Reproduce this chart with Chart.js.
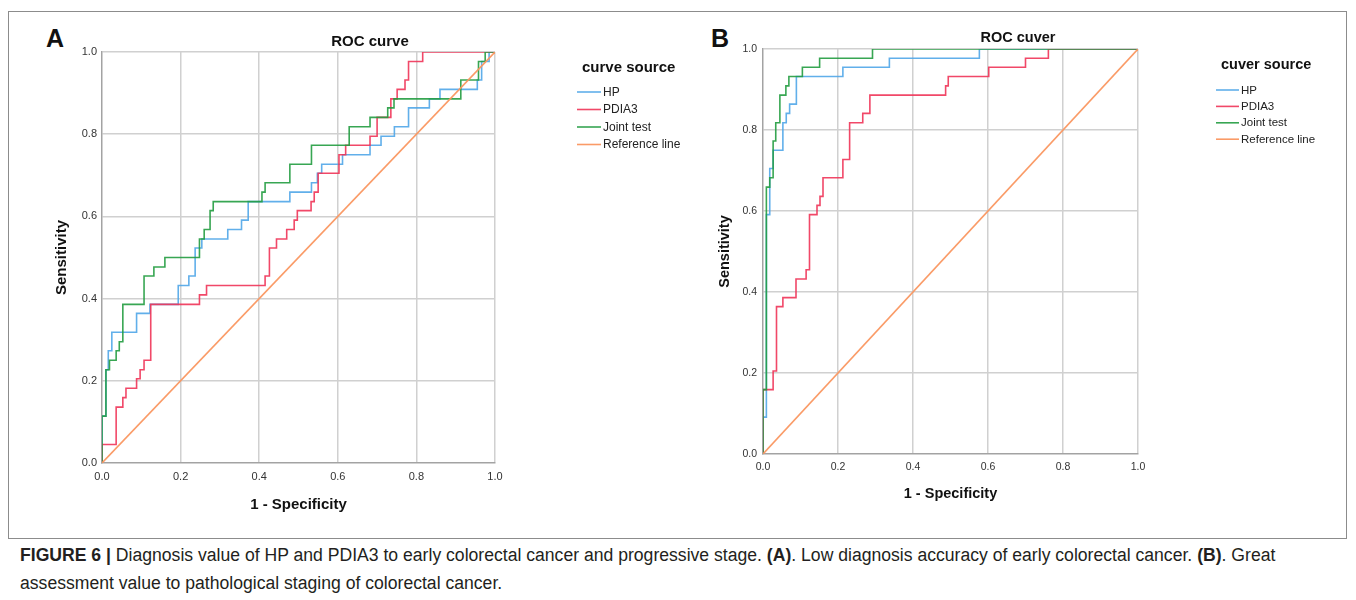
<!DOCTYPE html>
<html>
<head>
<meta charset="utf-8">
<script src="https://cdn.jsdelivr.net/npm/chart.js@4.4.0/dist/chart.umd.min.js"></script>
<style>
  body { margin: 0; width: 1356px; height: 600px; background: #fff; position: relative; overflow: hidden;
         font-family: "Liberation Sans", Arial, sans-serif; color: #111; }
  #frame { position: absolute; left: 8px; top: 11px; width: 1337px; height: 526px; border: 1px solid #8c8c8c; }
  canvas { position: absolute; }
  .letter { position: absolute; font-weight: bold; font-size: 25px; line-height: 25px; }
  #caption { position: absolute; left: 20px; top: 541px; font-size: 17.6px; line-height: 28px; color: #231f20; white-space: nowrap; }
</style>
</head>
<body>
<div id="frame"></div>
<div class="letter" style="left:46px;top:26px;">A</div>
<div class="letter" style="left:711px;top:26px;">B</div>
<canvas id="chartA" width="690" height="510" style="left:30px;top:14px;"></canvas>
<canvas id="chartB" width="650" height="510" style="left:700px;top:14px;"></canvas>
<div id="caption"><b>FIGURE 6 |</b> Diagnosis value of HP and PDIA3 to early colorectal cancer and progressive stage. <b>(A)</b>. Low diagnosis accuracy of early colorectal cancer. <b>(B)</b>. Great<br>assessment value to pathological staging of colorectal cancer.</div>
<script>
// ROC vertices: at each point the curve moves right to fpr, then up to tpr
var seriesNames = ["HP", "PDIA3", "Joint test", "Reference line"];
var tickLabels = ["0.0", "0.2", "0.4", "0.6", "0.8", "1.0"];

// panel A - early colorectal cancer
var fprHpA = [0, 0, 0.010, 0.016, 0.025, 0.088, 0.122, 0.194, 0.221, 0.237, 0.254, 0.320, 0.355, 0.372, 0.478, 0.533, 0.548, 0.559, 0.612, 0.682, 0.710, 0.744, 0.780, 0.833, 0.860, 0.955, 0.966, 0.985, 1];
var tprHpA = [0, 0.114, 0.227, 0.273, 0.318, 0.364, 0.386, 0.432, 0.455, 0.523, 0.545, 0.568, 0.591, 0.636, 0.659, 0.682, 0.705, 0.727, 0.750, 0.773, 0.795, 0.818, 0.864, 0.886, 0.909, 0.932, 0.977, 1, 1];
var fprPdiaA = [0, 0, 0.036, 0.053, 0.061, 0.088, 0.097, 0.107, 0.124, 0.248, 0.266, 0.415, 0.426, 0.444, 0.470, 0.489, 0.497, 0.532, 0.540, 0.550, 0.603, 0.620, 0.682, 0.700, 0.735, 0.751, 0.771, 0.780, 0.816, 1];
var tprPdiaA = [0, 0.045, 0.136, 0.159, 0.182, 0.205, 0.227, 0.250, 0.386, 0.409, 0.432, 0.455, 0.523, 0.545, 0.568, 0.591, 0.614, 0.636, 0.659, 0.705, 0.750, 0.773, 0.795, 0.841, 0.886, 0.909, 0.932, 0.977, 1, 1];
var fprJointA = [0, 0, 0.010, 0.019, 0.036, 0.044, 0.053, 0.107, 0.132, 0.160, 0.248, 0.260, 0.275, 0.283, 0.407, 0.415, 0.478, 0.533, 0.629, 0.682, 0.727, 0.743, 0.913, 0.958, 0.975, 1];
var tprJointA = [0, 0.114, 0.227, 0.250, 0.273, 0.295, 0.386, 0.455, 0.477, 0.500, 0.545, 0.568, 0.614, 0.636, 0.659, 0.682, 0.727, 0.773, 0.818, 0.841, 0.864, 0.886, 0.932, 0.977, 1, 1];

// panel B - pathological staging
var fprHpB = [0, 0, 0.009, 0.018, 0.027, 0.053, 0.062, 0.071, 0.089, 0.213, 0.337, 0.577, 1];
var tprHpB = [0, 0.091, 0.591, 0.705, 0.750, 0.818, 0.841, 0.864, 0.932, 0.955, 0.977, 1, 1];
var fprPdiaB = [0, 0, 0.027, 0.036, 0.053, 0.088, 0.115, 0.124, 0.144, 0.152, 0.160, 0.213, 0.231, 0.266, 0.285, 0.487, 0.494, 0.602, 0.700, 0.761, 1];
var tprPdiaB = [0, 0.159, 0.205, 0.364, 0.386, 0.432, 0.455, 0.591, 0.614, 0.636, 0.682, 0.727, 0.818, 0.841, 0.886, 0.909, 0.932, 0.955, 0.977, 1, 1];
var fprJointB = [0, 0, 0.009, 0.018, 0.027, 0.034, 0.045, 0.061, 0.069, 0.105, 0.151, 0.292, 1];
var tprJointB = [0, 0.159, 0.659, 0.682, 0.773, 0.818, 0.886, 0.909, 0.932, 0.955, 0.977, 1, 1];

var refX = [0, 1];
var refY = [0, 1];

var colors = ["rgba(80,166,232,0.9)", "rgba(240,52,88,0.9)", "rgba(34,156,64,0.9)", "rgba(250,150,95,0.95)"];
var FONT = '"Liberation Sans", Arial, sans-serif';

function pts(xs, ys) {
  return xs.map(function(x, i){ return {x: x, y: ys[i]}; });
}

// draws the plot title and the "source" legend at fixed spots
var decor = {
  id: 'decor',
  afterDraw: function(chart, args, o) {
    var ctx = chart.ctx;
    ctx.save();
    ctx.fillStyle = '#111';
    ctx.textBaseline = 'middle';
    ctx.textAlign = 'center';
    ctx.font = 'bold ' + o.titleSize + 'px ' + FONT;
    ctx.fillText(o.title, o.titleX, o.titleY);
    ctx.textAlign = 'left';
    ctx.font = 'bold ' + o.legTitleSize + 'px ' + FONT;
    ctx.fillText(o.legTitle, o.legTitleX, o.legTitleY);
    ctx.font = o.legSize + 'px ' + FONT;
    chart.data.datasets.forEach(function(ds, i){
      var y = o.legY + i * o.legGap;
      ctx.strokeStyle = ds.borderColor;
      ctx.lineWidth = 1.6;
      ctx.beginPath();
      ctx.moveTo(o.legX, y);
      ctx.lineTo(o.legX + o.legLine, y);
      ctx.stroke();
      ctx.fillStyle = '#222';
      ctx.fillText(ds.label, o.legX + o.legLine + 2, y + 0.5);
    });
    ctx.restore();
  }
};

function makeChart(id, hp, pdia, joint, cfg) {
  var ds = [
    {label: seriesNames[0], data: hp, borderColor: colors[0], order: 3, stepped: 'before'},
    {label: seriesNames[1], data: pdia, borderColor: colors[1], order: 2, stepped: 'before'},
    {label: seriesNames[2], data: joint, borderColor: colors[2], order: 1, stepped: 'before'},
    {label: seriesNames[3], data: pts(refX, refY), borderColor: colors[3], order: 0, stepped: false}
  ];
  ds.forEach(function(d){
    d.showLine = true; d.pointRadius = 0; d.borderWidth = 1.6; d.fill = false;
  });
  var gridColor = function(c){ return c.tick && c.tick.value === 0 ? 'rgba(0,0,0,0)' : '#d0d0d0'; };
  return new Chart(document.getElementById(id), {
    type: 'scatter',
    data: {datasets: ds},
    options: {
      responsive: false,
      animation: false,
      devicePixelRatio: 1,
      layout: {padding: cfg.padding},
      plugins: {
        legend: {display: false},
        tooltip: {enabled: false},
        decor: cfg.decor
      },
      scales: {
        x: {
          type: 'linear', min: 0, max: 1,
          ticks: {stepSize: 0.2, padding: cfg.xTickPad, color: '#333', maxRotation: 0,
                  font: {family: FONT, size: cfg.tickSize},
                  callback: function(v){ return tickLabels[Math.round(v * 5)]; }},
          grid: {color: gridColor, lineWidth: 1.5, drawTicks: false},
          border: {color: '#a3a3a3', width: 1.5},
          title: {display: true, text: '1 - Specificity', color: '#111',
                  font: {family: FONT, size: cfg.axisTitleSize, weight: 'bold'},
                  padding: {top: 0, bottom: cfg.xTitlePad}},
          afterFit: function(s){ s.height = cfg.xHeight; }
        },
        y: {
          type: 'linear', min: 0, max: 1,
          ticks: {stepSize: 0.2, padding: cfg.yTickPad, color: '#333',
                  font: {family: FONT, size: cfg.tickSize},
                  callback: function(v){ return tickLabels[Math.round(v * 5)]; }},
          grid: {color: gridColor, lineWidth: 1.5, drawTicks: false},
          border: {color: '#a3a3a3', width: 1.5},
          title: {display: true, text: 'Sensitivity', color: '#111',
                  font: {family: FONT, size: cfg.axisTitleSize, weight: 'bold'},
                  padding: {top: cfg.yTitlePad, bottom: 0}},
          afterFit: function(s){ s.width = cfg.yWidth; }
        }
      }
    },
    plugins: [decor]
  });
}

makeChart('chartA', pts(fprHpA, tprHpA), pts(fprPdiaA, tprPdiaA), pts(fprJointA, tprJointA), {
  padding: {left: 0, top: 38, right: 225, bottom: 0},
  xHeight: 61, yWidth: 72,
  tickSize: 11, xTickPad: 7, yTickPad: 5,
  axisTitleSize: 15, xTitlePad: 10, yTitlePad: 23,
  decor: {title: 'ROC curve', titleSize: 15, titleX: 340, titleY: 28,
          legTitle: 'curve source', legTitleSize: 15, legTitleX: 552, legTitleY: 54,
          legSize: 12, legX: 547, legLine: 24, legY: 78, legGap: 17.5}
});

makeChart('chartB', pts(fprHpB, tprHpB), pts(fprPdiaB, tprPdiaB), pts(fprJointB, tprJointB), {
  padding: {left: 0, top: 35, right: 212, bottom: 0},
  xHeight: 70, yWidth: 63,
  tickSize: 10.5, xTickPad: 7, yTickPad: 6,
  axisTitleSize: 14.5, xTitlePad: 21, yTitlePad: 16,
  decor: {title: 'ROC cuver', titleSize: 14.5, titleX: 318, titleY: 24,
          legTitle: 'cuver source', legTitleSize: 14.5, legTitleX: 521, legTitleY: 51,
          legSize: 11.5, legX: 516, legLine: 23, legY: 76, legGap: 16.4}
});
</script>
</body>
</html>
